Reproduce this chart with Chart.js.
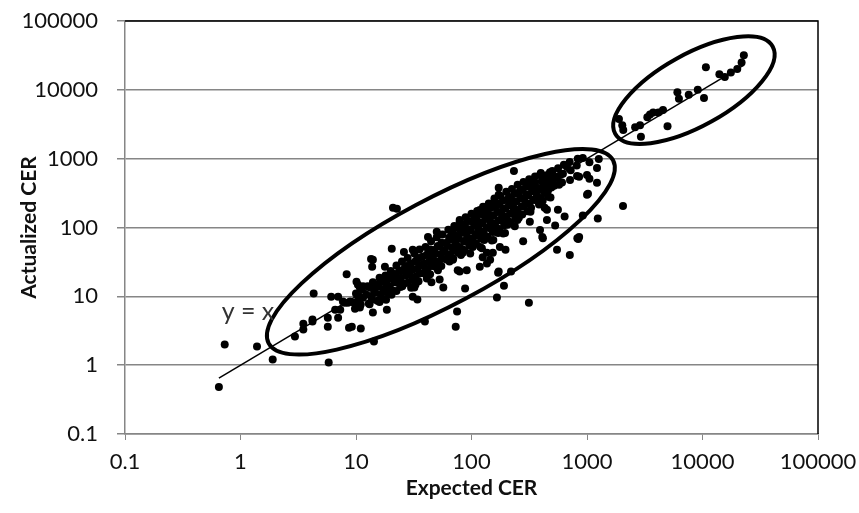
<!DOCTYPE html>
<html>
<head>
<meta charset="utf-8">
<title>Expected vs Actualized CER</title>
<script src="https://cdn.jsdelivr.net/npm/chart.js@4.4.1/dist/chart.umd.min.js"></script>
<style>
  html, body { margin: 0; padding: 0; background: #fff; }
  #wrap { width: 859px; height: 513px; }
</style>
</head>
<body>
<div id="wrap"><canvas id="cerChart" width="859" height="513"></canvas></div>
<script>
// decade ticks used on both log axes
const decadeTicks = [0.1, 1, 10, 100, 1000, 10000, 100000];

// [expected, actualized] pairs
const lowTail = [
    [0.65, 0.48], [0.73, 2.0], [1.39, 1.87], [1.9, 1.21], [2.96, 2.6], [3.5, 4.0], [3.5, 3.3],
    [4.2, 4.3], [4.2, 4.6], [4.3, 11], [5.8, 1.09], [5.7, 3.6], [5.7, 4.9], [7.0, 4.9], [6.1, 9.9],
    [7.0, 9.9], [6.6, 6.4], [7.3, 6.4], [7.7, 8.4], [8.0, 8.1], [8.5, 8.1], [8.9, 8.4], [9.6, 8.1],
    [10.2, 7.6], [10.6, 9.9], [10.8, 6.9], [8.3, 21], [8.7, 3.5], [9.2, 3.6], [11, 3.4], [14.3, 2.2],
    [14, 5.8], [18.5, 6.4], [10.8, 13.4], [10.1, 16.3], [10.4, 14.7], [11.5, 14], [13.5, 35],
    [13.8, 27], [14, 34], [17.8, 27], [17.2, 16.3], [19.7, 11.7], [20.4, 49], [20.9, 193], [22.6, 187]
];

const midScatter = [
    [26, 44], [31, 47.5], [42, 73], [50, 87], [31, 9.9], [34, 9.0], [30, 13.3], [32, 13.4],
    [39.5, 4.3], [45, 16], [53, 17.5], [57, 13.4], [75, 6.0], [73, 3.6], [88, 13], [76, 24],
    [79, 23], [91, 24], [69, 34], [84, 43], [118, 27], [125, 37], [136, 30], [136, 43], [153, 43],
    [145, 34], [170, 22], [172, 23], [220, 23], [166, 9.6], [191, 14.3], [314, 8.1], [176, 52],
    [197, 47.5], [103, 60], [69, 92], [91, 92], [79, 129], [118, 180], [160, 108], [170, 83],
    [160, 235], [215, 252], [250, 162], [250, 129], [280, 63], [320, 121], [392, 92], [415, 70],
    [410, 73], [450, 129], [450, 181], [530, 107], [550, 47.5], [560, 181], [640, 145], [710, 40],
    [825, 70], [840, 68], [855, 73], [920, 150], [1240, 135], [2050, 205], [172, 300], [172, 378],
    [233, 664], [255, 318], [321, 445], [355, 445], [392, 580], [410, 352], [420, 545], [430, 194],
    [460, 280], [478, 580], [478, 633], [584, 460], [670, 760], [713, 491], [820, 560], [855, 545],
    [1000, 580], [1000, 300], [1020, 308], [1050, 510], [1050, 890], [920, 1020], [1220, 445],
    [1220, 730], [1265, 990]
];

const denseBand = [
    [10, 11], [10.3, 8.5], [9.8, 6.6], [11.2, 12.6], [11.5, 9.5], [11, 7.6], [12.6, 14], [12.3, 10.5],
    [12.9, 7.9], [14, 16], [14.4, 12], [13.7, 8.9], [16, 18.6], [15.6, 14], [16.4, 10.7], [16, 8.3],
    [18, 20], [18.4, 15], [17.6, 11.7], [18.2, 8.9], [20, 23.4], [20.5, 17.8], [19.6, 13.8], [20.3, 10.5],
    [22.4, 28], [22, 21], [22.9, 15.8], [22.4, 12], [25, 32], [25.6, 24], [24.5, 18.6], [25.2, 14],
    [28, 36], [27.4, 27.5], [28.6, 21], [28, 15.8], [32, 42], [32.6, 32], [31.3, 24.5], [32, 18.6],
    [32.8, 14.8], [35.5, 48], [35, 36], [36.2, 28], [35.5, 21.4], [34.8, 16.6], [40, 52], [40.8, 40],
    [39.2, 30], [40, 23.4], [41, 18.2], [44.7, 63], [44, 48], [45.5, 36], [44.7, 27.5], [43.8, 21],
    [50, 72], [51, 54], [49, 42], [50, 32], [51.2, 24], [56, 79], [55, 60], [57, 46], [56, 35.5],
    [54.8, 27.5], [63, 93], [64, 71], [62, 54], [63, 41], [64.5, 32], [71, 105], [70, 79], [72.4, 60],
    [71, 46], [69.5, 35.5], [79, 120], [80.5, 91], [77.5, 69], [79, 52], [81, 40], [89, 141], [87.5, 107],
    [90.5, 81], [89, 62], [87, 47], [100, 158], [102, 120], [98, 91], [100, 69], [102.5, 52], [97.5, 42],
    [112, 174], [110, 132], [114, 100], [112, 76], [109.5, 58], [126, 200], [128.5, 151], [123.5, 115],
    [126, 87], [129, 66], [123, 50], [141, 224], [138.5, 170], [144, 129], [141, 98], [138, 74],
    [158, 263], [161, 200], [155, 151], [158, 115], [162, 87], [154.5, 66], [178, 288], [174.5, 219],
    [181.5, 166], [178, 126], [173.5, 95], [200, 331], [204, 251], [196, 191], [200, 145], [205, 110],
    [195, 83], [224, 363], [219.5, 275], [228.5, 209], [224, 158], [218.5, 120], [251, 417], [256, 316],
    [246, 240], [251, 182], [257, 138], [282, 457], [276.5, 355], [287.5, 269], [282, 204], [275, 155],
    [316, 501], [322, 389], [310, 295], [316, 224], [324, 170], [355, 550], [348, 427], [362, 331],
    [355, 251], [398, 617], [406, 468], [390, 355], [398, 269], [447, 575], [438, 437], [456, 331],
    [501, 661], [511, 501], [491, 380], [562, 724], [551, 550], [573, 417], [631, 813], [619, 603],
    [708, 891], [722, 676], [832, 1000], [815, 794]
];

// filler between the band columns above
const bandCore = [
    [13.3, 13.3], [13.6, 10.1], [13.1, 7.7], [15, 15], [14.7, 11.3], [15.3, 8.6], [16.8, 16.8],
    [17.2, 12.7], [16.5, 9.7], [18.8, 18.8], [18.4, 14.3], [19.2, 10.8], [21.1, 21.1], [21.6, 16],
    [20.7, 12.2], [23.7, 23.7], [23.2, 18], [24.2, 13.7], [26.6, 26.6], [27.2, 20.2], [26, 15.3],
    [29.9, 29.9], [29.2, 22.7], [30.5, 17.2], [33.5, 33.5], [34.2, 25.4], [32.8, 19.3], [37.6, 37.6],
    [36.8, 28.5], [38.4, 21.6], [42.2, 42.2], [43.1, 32], [41.3, 24.3], [47.3, 47.3], [46.3, 35.9],
    [48.3, 27.2], [53.1, 53.1], [54.2, 40.3], [52, 30.6], [59.6, 59.6], [58.3, 45.2], [60.8, 34.3],
    [66.8, 66.8], [68.2, 50.7], [65.4, 38.5], [66.8, 88], [75, 75], [73.4, 56.9], [76.6, 43.2], [75, 99],
    [84.1, 84.1], [85.9, 63.8], [82.3, 48.4], [84.1, 111], [94.4, 94.4], [92.4, 71.6], [96.4, 54.3],
    [94.4, 124], [106, 106], [108, 80.4], [104, 61], [106, 140], [119, 119], [116.5, 90.2], [121.5, 68.4],
    [119, 157], [119, 52], [133, 133], [136, 101], [130, 76.7], [133, 176], [150, 150], [147, 114],
    [153, 86], [150, 197], [150, 65], [168, 168], [171.5, 127], [164.5, 96.6], [168, 221], [188, 188],
    [184, 143], [192, 108], [188, 248], [188, 82], [211, 211], [215.5, 160], [206.5, 122], [211, 278],
    [237, 237], [232, 180], [242, 137], [237, 312], [237, 104], [266, 266], [271.5, 202], [260.5, 153],
    [266, 350], [299, 299], [293, 226], [305, 172], [299, 392], [335, 335], [342, 254], [328, 193],
    [376, 376], [368, 285], [384, 216], [422, 422], [431, 320], [413, 243], [473, 473], [463, 359],
    [483, 272], [531, 531], [520, 403], [596, 596], [608, 452]
];

const upperGroup = [
    [1890, 3760], [2020, 3050], [2060, 2600], [2610, 2850], [2880, 3050], [2930, 2080], [3330, 4000],
    [3510, 4400], [3740, 4700], [4150, 4700], [4550, 5100], [4980, 2960], [6060, 9200], [6250, 7400],
    [7600, 8500], [9100, 10000], [10300, 7600], [10700, 21300], [14000, 16900], [15600, 15300],
    [17600, 17800], [20000, 20000], [21800, 25000], [22800, 31800]
];

// y = x trend, spanning the expected-CER range of the data
const trendRange = [0.65, 22800];

// hand-drawn group outlines: centre in data units, radii in px, tilt in degrees
const rings = [
    { x: 54.3, y: 44.4, rx: 195, ry: 53, tilt: -28 },
    { x: 8430, y: 9900, rx: 90, ry: 36, tilt: -29 }
];

const FONT = 'Lato, "Open Sans", "Liberation Sans", sans-serif';

const allPoints = [...lowTail, ...midScatter, ...denseBand, ...bandCore, ...upperGroup]
    .map(p => ({ x: p[0], y: p[1] }));

const chartDecor = {
    id: 'chartDecor',
    afterDatasetsDraw(chart) {
        const { ctx, chartArea: a, scales: { x, y } } = chart;
        ctx.save();
        // plot frame, top and right edges
        ctx.strokeStyle = '#000';
        ctx.lineWidth = 1.5;
        ctx.beginPath();
        ctx.moveTo(a.left, a.top);
        ctx.lineTo(a.right, a.top);
        ctx.lineTo(a.right, a.bottom);
        ctx.stroke();

        ctx.lineWidth = 4;
        rings.forEach(r => {
            ctx.beginPath();
            ctx.ellipse(x.getPixelForValue(r.x), y.getPixelForValue(r.y), r.rx, r.ry,
                r.tilt * Math.PI / 180, 0, Math.PI * 2);
            ctx.stroke();
        });

        ctx.font = '25px ' + FONT;
        ctx.fillStyle = '#333';
        ctx.textAlign = 'center';
        ctx.textBaseline = 'middle';
        ctx.fillText('y = x', x.getPixelForValue(1.16), y.getPixelForValue(6.0));
        ctx.restore();
    }
};

function decades(scale) {
    scale.ticks = decadeTicks.map(v => ({ value: v }));
}

new Chart(document.getElementById('cerChart'), {
    type: 'scatter',
    data: {
        datasets: [{
            label: 'y = x',
            type: 'line',
            data: trendRange.map(v => ({ x: v, y: v })),
            borderColor: '#000',
            borderWidth: 1.5,
            pointRadius: 0,
            order: 0
        }, {
            label: 'CER',
            data: allPoints,
            backgroundColor: '#000',
            borderColor: '#000',
            pointRadius: 4,
            borderWidth: 0,
            order: 1
        }]
    },
    options: {
        responsive: false,
        animation: false,
        layout: { padding: { top: 21, right: 41, left: 0, bottom: 0 } },
        plugins: { legend: { display: false }, tooltip: { enabled: false } },
        scales: {
            x: {
                type: 'logarithmic',
                min: 0.1,
                max: 100000,
                afterBuildTicks: decades,
                afterFit(s) { s.height = 79; s.paddingLeft = 0; s.paddingRight = 0; },
                grid: { drawOnChartArea: false, drawTicks: true, tickLength: 6, color: '#868686' },
                border: { color: '#868686', width: 1.5 },
                ticks: {
                    autoSkip: false, maxRotation: 0, padding: 9, color: '#111',
                    font: { family: FONT, size: 22 },
                    callback: v => String(v)
                },
                title: {
                    display: true, text: 'Expected CER', color: '#111',
                    font: { family: FONT, size: 21, weight: 'bold' },
                    padding: { top: 0, bottom: 12 }
                }
            },
            y: {
                type: 'logarithmic',
                min: 0.1,
                max: 100000,
                afterBuildTicks: decades,
                afterFit(s) { s.width = 125; s.paddingTop = 0; s.paddingBottom = 0; },
                grid: { color: '#868686', lineWidth: 1.5, tickLength: 8 },
                border: { color: '#868686', width: 1.5 },
                ticks: {
                    autoSkip: false, padding: 19, color: '#111',
                    font: { family: FONT, size: 22 },
                    callback: v => String(v)
                },
                title: {
                    display: true, text: 'Actualized CER', color: '#111',
                    font: { family: FONT, size: 21, weight: 'bold' },
                    padding: { top: 17, bottom: 0 }
                }
            }
        }
    },
    plugins: [chartDecor]
});
</script>
</body>
</html>
